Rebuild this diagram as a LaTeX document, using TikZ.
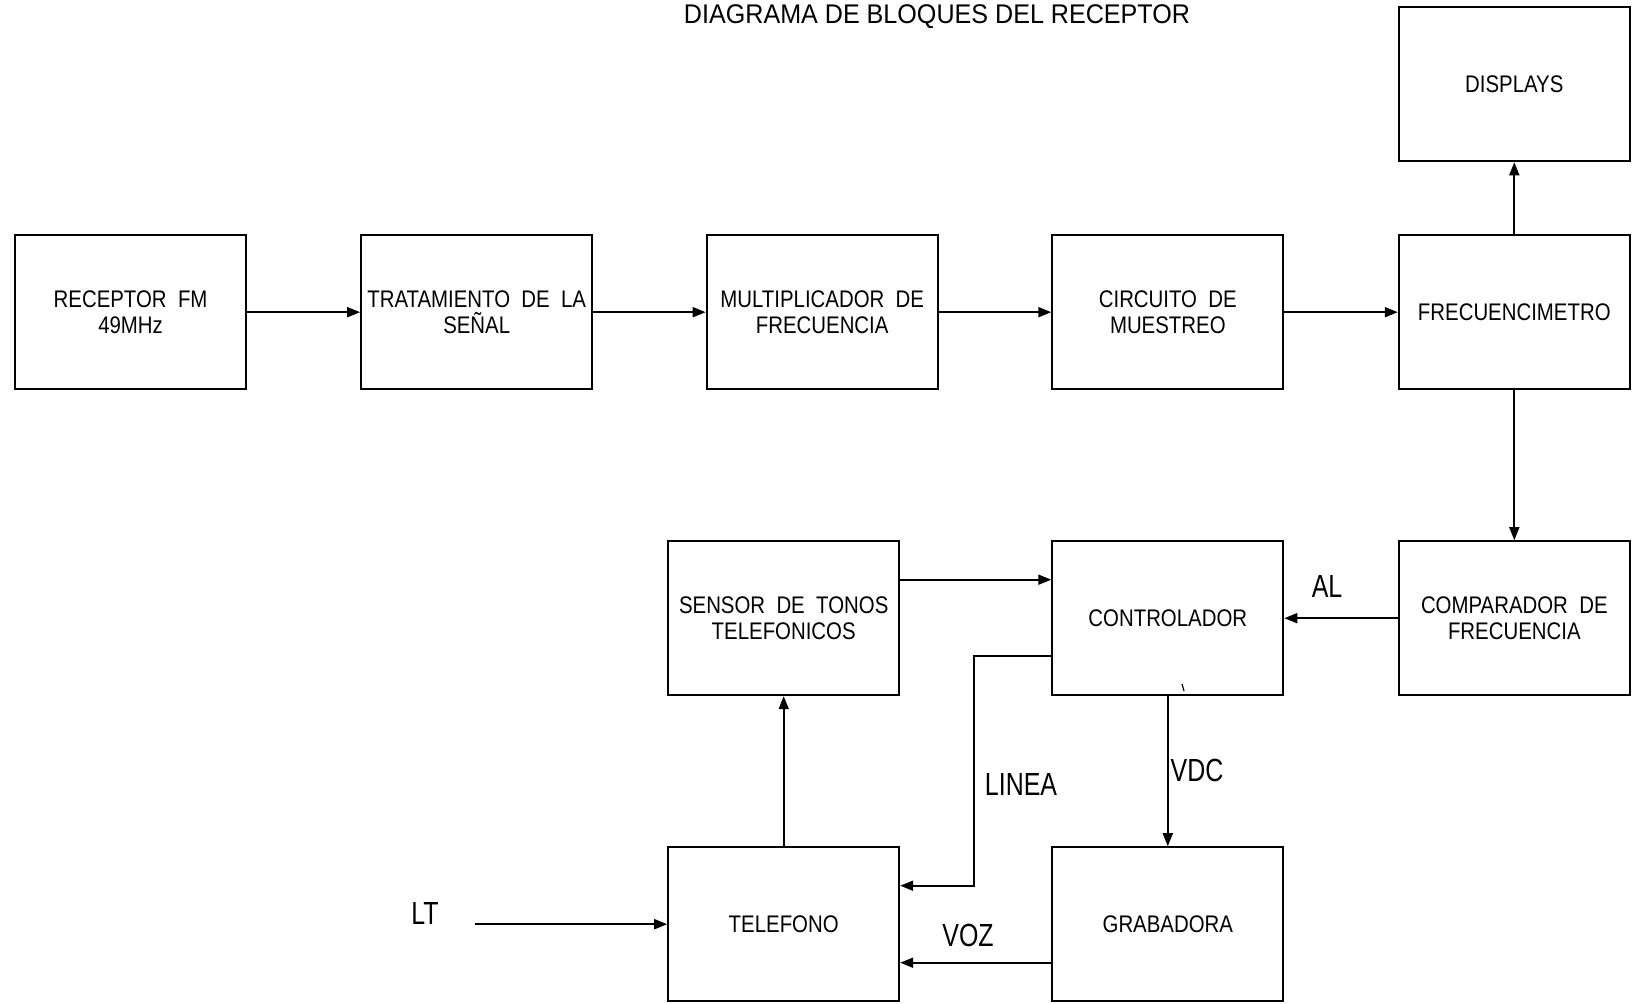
\documentclass[tikz,border=0pt]{standalone}
\usepackage{fontspec}
\setmainfont{Liberation Sans}[FakeStretch=0.85]
\newfontfamily\narrowfont{Liberation Sans}[FakeStretch=0.78]
\newfontfamily\titlefont{Liberation Sans}[FakeStretch=0.93]
\usetikzlibrary{arrows.meta}
\begin{document}
\begin{tikzpicture}[x=0.5pt,y=-0.5pt,
  blk/.style={draw, line width=1pt, minimum width=115.5pt, minimum height=77pt,
    align=center, inner sep=0pt, font=\fontsize{12}{13}\selectfont},
  conn/.style={line width=0.9pt, -{Triangle[length=6.5pt,width=5pt]}},
  lbl/.style={font=\narrowfont\fontsize{16}{18}\selectfont, inner sep=0pt}]
\useasboundingbox (0,0) rectangle (1632,1004);
% title
\node[font=\titlefont\fontsize{13.5}{16}\selectfont, inner sep=0pt, anchor=base] (title) at (937,24) {DIAGRAMA DE BLOQUES DEL RECEPTOR};
% row 1
\node[blk] (rec)  at (130.6,312.2) {RECEPTOR\ \ FM\\49MHz};
\node[blk] (trat) at (476.7,312.2) {TRATAMIENTO\ \ DE\ \ LA\\SEÑAL};
\node[blk] (mult) at (822.2,312.2) {MULTIPLICADOR\ \ DE\\FRECUENCIA};
\node[blk] (circ) at (1167.8,312.2) {CIRCUITO\ \ DE\\MUESTREO};
\node[blk] (frec) at (1514.3,312.2) {FRECUENCIMETRO};
\node[blk] (disp) at (1514.3,84.3) {DISPLAYS};
% row 2
\node[blk] (sens) at (783.7,618.2) {SENSOR\ \ DE\ \ TONOS\\TELEFONICOS};
\node[blk] (ctrl) at (1167.8,618.2) {CONTROLADOR};
\node[blk] (comp) at (1514.3,618.2) {COMPARADOR\ \ DE\\FRECUENCIA};
% row 3
\node[blk] (tel)  at (783.7,924.2) {TELEFONO};
\node[blk] (grab) at (1167.8,924.2) {GRABADORA};
% connectors
\draw[conn] (rec) -- (trat);
\draw[conn] (trat) -- (mult);
\draw[conn] (mult) -- (circ);
\draw[conn] (circ) -- (frec);
\draw[conn] (frec) -- (disp);
\draw[conn] (frec) -- (comp);
\draw[conn] (comp) -- (ctrl);
\draw[conn] ([yshift=19.25pt]sens.east) -- ([yshift=19.25pt]ctrl.west);
\draw[conn] ([yshift=-18.75pt]ctrl.west) -- ++(-77,0) |- ([yshift=19.25pt]tel.east);
\draw[conn] (ctrl) -- (grab);
\draw[conn] (tel) -- (sens);
\draw[conn] ([yshift=-19.25pt]grab.west) -- ([yshift=-19.25pt]tel.east);
\coordinate (ltstart) at (474.6,924.2);
\draw[conn] (ltstart) -- (tel);
% small tick mark
\draw[line width=0.6pt] (1182,684) -- (1184,691);
% labels
\node[lbl] (al) at (1327,586) {AL};
\node[lbl] (linea) at (1021,784) {LINEA};
\node[lbl] (vdc) at (1197,770) {VDC};
\node[lbl] (voz) at (968,935) {VOZ};
\node[lbl] (lt) at (425,913) {LT};
\end{tikzpicture}
\end{document}
